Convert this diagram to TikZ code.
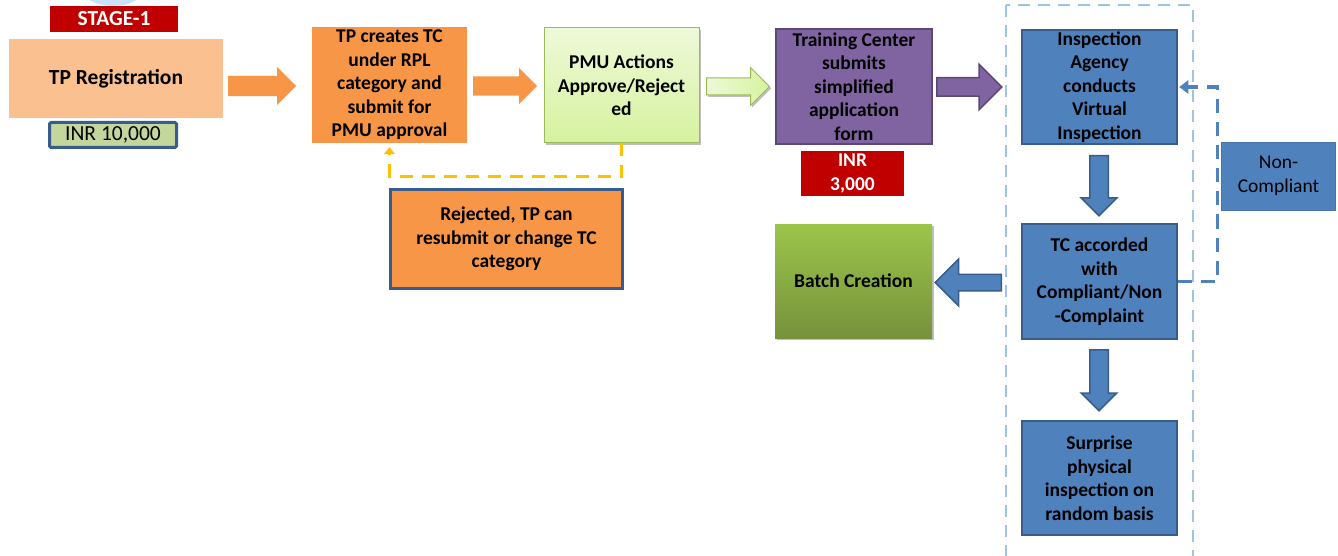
\documentclass[tikz,border=0pt]{standalone}
\usepackage{fontspec}
\setmainfont{Carlito}
\usetikzlibrary{shapes.arrows,arrows.meta,shadows}
\definecolor{dkred}{HTML}{C00000}
\definecolor{regfill}{HTML}{FAC090}
\definecolor{inrgreen}{HTML}{C3D69B}
\definecolor{navy}{HTML}{385D8A}
\definecolor{orng}{HTML}{F79646}
\definecolor{pmutop}{HTML}{EEF9D8}
\definecolor{pmubot}{HTML}{D6F29E}
\definecolor{olive}{HTML}{9BBB59}
\definecolor{purp}{HTML}{8064A2}
\definecolor{purpdk}{HTML}{5C4776}
\definecolor{blu}{HTML}{4F81BD}
\definecolor{battop}{HTML}{9CC54A}
\definecolor{batbot}{HTML}{76923C}
\definecolor{lblue}{HTML}{9DC3E6}
\definecolor{cloud}{HTML}{C9E2F5}
\definecolor{ylw}{HTML}{FFC000}
\tikzset{
  txt/.style={font=\fontsize{19.5}{23.5}\selectfont\bfseries, align=center, inner sep=0pt},
  box/.style={txt, rectangle},
  orbox/.style={box, fill=orng},
  bluebox/.style={box, fill=blu, draw=navy, line width=2.5pt},
  barrow/.style={single arrow, inner sep=0pt, text width=#1, text height=#1, text depth=0pt, anchor=tail},
  orarrow/.style={barrow=#1, fill=orng},
  bluarrow/.style={barrow=#1, fill=blu, draw=navy, line width=1.5pt},
  ydash/.style={draw=ylw, line width=3pt, dash pattern=on 13pt off 9pt, -{Triangle[width=11pt,length=7pt]}},
  bdash/.style={draw=blu, line width=3.5pt, dash pattern=on 14pt off 9pt, -{Triangle[width=13pt,length=9pt]}},
  shad/.style={drop shadow={shadow xshift=1.5pt, shadow yshift=-2pt, opacity=0.25, fill=black}},
}
\begin{document}
\begin{tikzpicture}[x=1pt,y=-1pt]
\clip (0,0) rectangle (1338,556);
\fill[white] (0,0) rectangle (1338,556);
\fill[cloud] (113,-10) ellipse [x radius=30, y radius=16];

% container
\draw[lblue, line width=2pt, dash pattern=on 12pt off 8pt] (1006,5) rectangle (1193,570);

% stage 1
\node[box, fill=dkred, text=white, minimum width=128, minimum height=26, font=\fontsize{21.5}{24}\selectfont\bfseries] (stage) at (114,19) {STAGE-1};
\node[box, fill=regfill, minimum width=214, minimum height=79, font=\fontsize{21.5}{24}\selectfont\bfseries] (tpreg) at (116,78.5) {TP Registration};
\node[box, fill=inrgreen, draw=navy, line width=3pt, rounded corners=1.5pt, minimum width=127, minimum height=25, font=\fontsize{21.5}{22}\selectfont] (inr1) at (113,135) {INR 10,000};

\node[orbox, minimum width=155, minimum height=116] (tpc) at (389.5,85) {TP creates TC\\under RPL\\category and\\submit for\\PMU approval};
\node[box, shad, top color=pmutop, bottom color=pmubot, draw=olive, line width=1pt, minimum width=155, minimum height=115] (pmu) at (621.5,85.5) {PMU Actions\\Approve/Reject\\ed};
\node[box, fill=purp, draw=purpdk, line width=2pt, minimum width=156, minimum height=115] (tcs) at (854,86.5) {Training Center\\submits\\simplified\\application\\form};
\node[box, fill=dkred, text=white, minimum width=103, minimum height=45] (inr3) at (852.5,173.5) {INR\\3,000};

\node[orbox, draw=navy, line width=3pt, minimum width=232, minimum height=99] (rej) at (506.5,239) {Rejected, TP can\\resubmit or change TC\\category};

\node[box, shad, top color=battop, bottom color=batbot, minimum width=157, minimum height=114] (batch) at (853.5,281) {Batch Creation};

\node[bluebox, minimum width=155, minimum height=114] (insp) at (1099.5,87) {Inspection\\Agency\\conducts\\Virtual\\Inspection};
\node[bluebox, minimum width=155, minimum height=115] (tca) at (1099.5,281.5) {TC accorded\\with\\Compliant/Non\\-Complaint};
\node[bluebox, minimum width=155, minimum height=114] (surp) at (1099.5,478) {Surprise\\physical\\inspection on\\random basis};
\node[box, fill=blu, draw=blu!90!black, line width=0.8pt, minimum width=114, minimum height=68, font=\fontsize{19.5}{23.5}\selectfont] (nonc) at (1278.5,176) {Non-\\Compliant};

% block arrows
\node[orarrow=20pt, minimum height=68, single arrow head extend=9] (a1) at (228,86) {};
\node[orarrow=19pt, minimum height=64, single arrow head extend=8.5] (a2) at (473,86) {};
\node[barrow=16pt, shad, minimum height=63, single arrow head extend=10.5, left color=pmutop, right color=pmubot, draw=olive, line width=1pt] (a3) at (706,86.5) {};
\node[barrow=17pt, minimum height=65, single arrow head extend=13.5, fill=purp, draw=purpdk, line width=1.5pt] (a4) at (936,87) {};
\node[bluarrow=17pt, minimum height=60, single arrow head extend=8.5, shape border rotate=270] (a5) at (1099,155) {};
\node[bluarrow=17pt, minimum height=61, single arrow head extend=8.5, shape border rotate=270] (a6) at (1099,349) {};
\node[bluarrow=15pt, minimum height=66, single arrow head extend=15, shape border rotate=180] (a7) at (1002,282.5) {};

% dashed connectors
\draw[ydash, shorten >=4pt] (pmu.south) -- ++(0,33) -| (tpc.south);
\draw[bdash, shorten >=1pt] (tca.east) -- ++(39,0) |- (insp.east);
\end{tikzpicture}
\end{document}
